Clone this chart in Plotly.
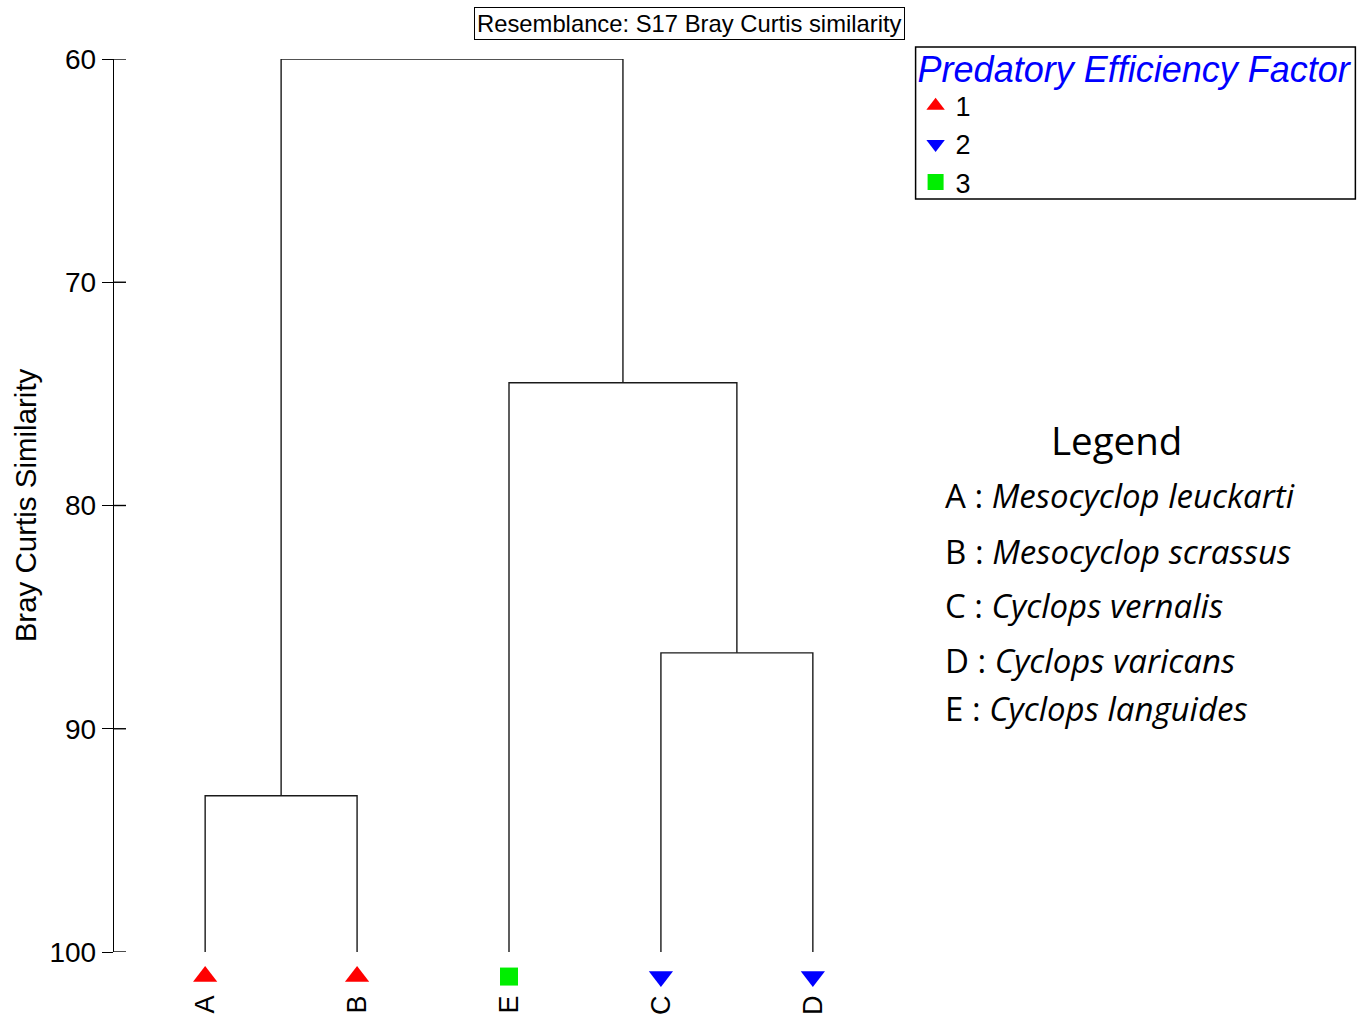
import plotly.graph_objects as go

# ---------------- data ----------------
leaves = ["A", "B", "E", "C", "D"]
leaf_factor = ["1", "1", "3", "2", "2"]
merge_left = ["A", "C", "E", "AB"]
merge_right = ["B", "D", "CD", "ECD"]
merge_similarity = [93.0, 86.6, 74.5, 60.0]
leaf_similarity = 100.0
factor_levels = ["1", "2", "3"]
y_ticks = [60, 70, 80, 90, 100]
species_codes = ["A", "B", "C", "D", "E"]
species_names = ["Mesocyclop leuckarti", "Mesocyclop scrassus", "Cyclops vernalis",
                 "Cyclops varicans", "Cyclops languides"]

# ---------------- styles / layout ----------------
W, H = 1370, 1017
ML, MT = 114, 59
AXIS_BOTTOM_PX = 952          # pixel row of similarity 100
X_RANGE = [-0.6, 4.6]
PX_PER_X = 152
plot_w = (X_RANGE[1] - X_RANGE[0]) * PX_PER_X
MR = W - ML - plot_w
plot_h = H - MT
D0 = (H - AXIS_BOTTOM_PX) / plot_h
PX_PER_UNIT = (AXIS_BOTTOM_PX - MT) / 40.0
Y3_BOTTOM = 100 + (H - AXIS_BOTTOM_PX) / PX_PER_UNIT
MARKER_Y = 101.1  # marker row just below the leaves
INNER_TICK_PX = 12

sym = {"1": "triangle-up", "2": "triangle-down", "3": "square"}
col = {"1": "#ff0000", "2": "#0000ff", "3": "#00ee00"}
msize = {"1": 21, "2": 21, "3": 18}
ARIAL = "Arial, Liberation Sans, sans-serif"
CALIBRI = "Open Sans, Carlito, Calibri, sans-serif"


def px_to_paper_x(px):
    return (px - ML) / plot_w


def px_to_paper_y(py):
    return (H - py) / plot_h


# ---------------- dendrogram geometry ----------------
pos = {lf: (i, leaf_similarity) for i, lf in enumerate(leaves)}
lx, ly = [], []
for l, r, h in zip(merge_left, merge_right, merge_similarity):
    xl, hl = pos[l]
    xr, hr = pos[r]
    lx += [xl, xl, xr, xr, None]
    ly += [hl, h, h, hr, None]
    pos[l + r] = ((xl + xr) / 2, h)

fig = go.Figure()
fig.add_trace(go.Scatter(x=lx, y=ly, mode="lines", yaxis="y",
                         line=dict(color="#1a1a1a", width=1.4),
                         showlegend=False, hoverinfo="skip", cliponaxis=False))

for lev in factor_levels:
    xs = [i for i, f in enumerate(leaf_factor) if f == lev]
    fig.add_trace(go.Scatter(
        x=xs, y=[MARKER_Y] * len(xs), mode="markers", name=lev, yaxis="y3",
        marker=dict(symbol=sym[lev], color=col[lev], size=msize[lev], line=dict(width=0)),
        cliponaxis=False))

# ---------------- annotations ----------------
ann = [dict(text="Resemblance: S17 Bray Curtis similarity", xref="paper", yref="paper",
            x=px_to_paper_x(690), y=px_to_paper_y(23.5), xanchor="center", yanchor="middle",
            showarrow=False, font=dict(family=ARIAL, size=23.8, color="black"),
            bordercolor="black", borderwidth=1, borderpad=2, bgcolor="white"),
       dict(text="Legend", xref="paper", yref="paper",
            x=px_to_paper_x(1117), y=px_to_paper_y(440), xanchor="center", yanchor="middle",
            showarrow=False, font=dict(family=CALIBRI, size=38.5, color="black"))]
rows_px = [495, 551, 605, 660, 708]
for code, name, ry in zip(species_codes, species_names, rows_px):
    ann.append(dict(text=f"{code} : <i>{name}</i>", xref="paper", yref="paper",
                    x=px_to_paper_x(943), y=px_to_paper_y(ry), xanchor="left", yanchor="middle",
                    showarrow=False, font=dict(family=CALIBRI, size=33, color="black")))

shapes = [dict(type="rect", xref="paper", yref="paper",
               x0=px_to_paper_x(916), x1=px_to_paper_x(1356),
               y0=px_to_paper_y(199), y1=px_to_paper_y(47),
               line=dict(color="black", width=1.5), fillcolor="rgba(0,0,0,0)")]
# inner half of the crossing y-axis ticks
for t in y_ticks:
    shapes.append(dict(type="line", xref="paper", yref="y", x0=0, x1=INNER_TICK_PX / plot_w,
                       y0=t, y1=t, line=dict(color="black", width=1.4)))

fig.update_layout(
    template="none",
    width=W, height=H,
    margin=dict(l=ML, r=MR, t=MT, b=0, pad=0),
    paper_bgcolor="white", plot_bgcolor="rgba(0,0,0,0)",
    font=dict(family=ARIAL, color="black"),
    showlegend=True,
    legend=dict(
        x=px_to_paper_x(916), y=px_to_paper_y(35), xanchor="left", yanchor="top",
        borderwidth=0, bgcolor="rgba(0,0,0,0)",
        title=dict(text="Predatory Efficiency Factor", side="top",
                   font=dict(family=ARIAL, size=36, color="#0000ff", style="italic")),
        font=dict(family=ARIAL, size=27, color="black"),
        tracegroupgap=0),
    xaxis=dict(range=X_RANGE, tickmode="array", tickvals=list(range(len(leaves))),
               ticktext=leaves, tickangle=-90, ticks="", showline=False, showgrid=False,
               zeroline=False, tickfont=dict(family=ARIAL, size=27, color="black"),
               ticklabelstandoff=37, automargin=False, anchor="y"),
    yaxis=dict(domain=[D0, 1], range=[100, 60], tickmode="array", tickvals=y_ticks,
               ticks="outside", ticklen=11, tickwidth=1.4, tickcolor="black", showline=True,
               linecolor="black", linewidth=1.4, showgrid=False, zeroline=False,
               tickfont=dict(family=ARIAL, size=28, color="black"),
               title=dict(text="Bray Curtis Similarity", standoff=4,
                          font=dict(family=ARIAL, size=29.5, color="black")),
               automargin=False),
    yaxis3=dict(domain=[0, D0], range=[Y3_BOTTOM, 100], visible=False, anchor="x"),
    annotations=ann,
    shapes=shapes,
)

fig.write_html("out.html", config={"displayModeBar": False},
               post_script="document.body.style.margin='0px';")
